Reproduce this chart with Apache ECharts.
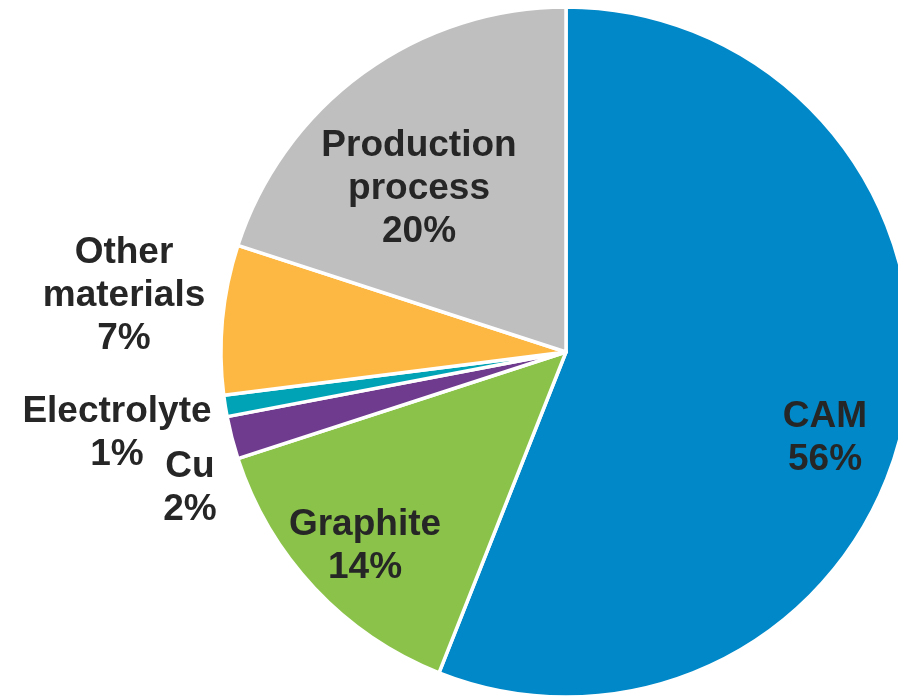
<!DOCTYPE html>
<html>
<head>
<meta charset="utf-8">
<script src="https://cdn.jsdelivr.net/npm/echarts@6/dist/echarts.min.js"></script>
<style>
  html, body { margin: 0; padding: 0; background: #ffffff; }
  #chart { width: 898px; height: 696px; }
</style>
</head>
<body>
<div id="chart"></div>
<script>
// Cost breakdown of a battery cell (share of total, %)
const categories = ['CAM', 'Graphite', 'Cu', 'Electrolyte', 'Other materials', 'Production process'];
const shares = [56, 14, 2, 1, 7, 20];
const colors = ['#0088C8', '#8BC34A', '#6F3B8E', '#00A3B5', '#FDB843', '#BFBFBF'];

// Label anchor points (centre of each text block)
const labelAnchors = [
  [825, 438],
  [365, 546],
  [190, 488],
  [117, 433],
  [124, 296],
  [419, 189]
];

const chart = echarts.init(document.getElementById('chart'), null, { renderer: 'canvas' });

chart.setOption({
  backgroundColor: '#ffffff',
  animation: false,
  series: [{
    type: 'pie',
    center: [566, 352],
    radius: 345,
    startAngle: 90,
    clockwise: true,
    avoidLabelOverlap: false,
    itemStyle: { borderColor: '#ffffff', borderWidth: 3.5 },
    label: {
      show: true,
      position: 'inside',
      color: '#262626',
      fontFamily: '"Liberation Sans", Arial, sans-serif',
      fontWeight: 'bold',
      fontSize: 37,
      lineHeight: 43,
      align: 'center',
      formatter: p => p.name.replace(' ', '\n') + '\n' + p.value + '%'
    },
    labelLine: { show: false },
    emphasis: { disabled: true },
    labelLayout: params => ({
      x: labelAnchors[params.dataIndex][0],
      y: labelAnchors[params.dataIndex][1],
      align: 'center',
      verticalAlign: 'middle'
    }),
    data: categories.map((name, i) => ({
      name: name,
      value: shares[i],
      itemStyle: { color: colors[i] }
    }))
  }]
});
</script>
</body>
</html>
